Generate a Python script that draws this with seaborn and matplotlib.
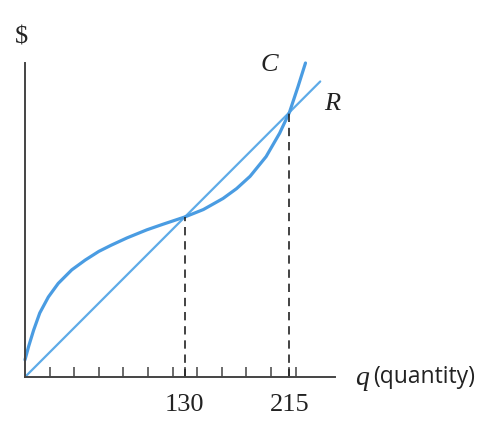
import matplotlib
matplotlib.use('Agg')
import matplotlib.pyplot as plt
import seaborn as sns
import pandas as pd

# cost curve C
q_cost = [0, 3, 7, 12, 19, 27, 38, 49, 60, 70, 83, 99, 112, 130, 145, 161, 172, 183, 196, 207, 215, 222, 228]
cost = [14, 25, 38, 52, 65, 76, 87, 95, 102, 107, 113, 119.5, 124, 130, 136, 145, 153, 163, 179, 198, 215, 236, 255]

# revenue line R
q_rev = [0, 130, 215, 240]
revenue = [0, 130, 215, 240]

# break-even points
cross_q = [130, 215]
cross_val = [130, 215]

tick_pos = [20, 40, 60, 80, 100, 120, 130, 140, 160, 180, 200, 215, 220]
tick_labels = ['' if t not in cross_q else str(t) for t in tick_pos]

sns.set_style('white')
plt.rcParams['font.family'] = ['Liberation Serif', 'DejaVu Serif']

SERIF = 'Liberation Serif'
SANS = 'Open Sans'
AXIS_COL = '#444444'
TEXT_COL = '#222222'

fig = plt.figure(figsize=(4.92, 4.28), dpi=100)
ax = fig.add_axes([25 / 492, 51 / 428, 310 / 492, 314 / 428])

df_cost = pd.DataFrame({'q': q_cost, 'val': cost})
df_rev = pd.DataFrame({'q': q_rev, 'val': revenue})

sns.lineplot(data=df_rev, x='q', y='val', ax=ax, color='#5eabe8', linewidth=1.6,
             sort=False, clip_on=False)
sns.lineplot(data=df_cost, x='q', y='val', ax=ax, color='#4a9ce2', linewidth=2.3,
             sort=False, clip_on=False)

ax.vlines(cross_q, 0, cross_val, colors=TEXT_COL, linestyles=(0, (5, 3.5)), linewidth=1.2)

ax.set_xlim(0, 252)
ax.set_ylim(0, 255)
ax.set_xlabel('')
ax.set_ylabel('')

for side in ['top', 'right']:
    ax.spines[side].set_visible(False)
for side in ['left', 'bottom']:
    ax.spines[side].set_color(AXIS_COL)
    ax.spines[side].set_linewidth(1.4)

ax.set_xticks(tick_pos)
ax.set_xticklabels(tick_labels, fontfamily=SERIF)
ax.set_yticks([])
ax.tick_params(axis='x', bottom=True, direction='in', length=7, width=1.1, color=AXIS_COL,
               pad=12, labelsize=19, labelcolor=TEXT_COL)

ax.text(-2.5, 276, '$', fontsize=19, fontfamily=SERIF, ha='center', va='center',
        color=TEXT_COL, clip_on=False)
ax.text(199, 253, 'C', fontsize=19, fontfamily=SERIF, fontstyle='italic',
        ha='center', va='center', color=TEXT_COL, clip_on=False)
ax.text(250, 222, 'R', fontsize=19, fontfamily=SERIF, fontstyle='italic',
        ha='center', va='center', color=TEXT_COL, clip_on=False)
ax.text(268, -1, 'q', fontsize=20, fontfamily=SERIF, fontstyle='italic',
        ha='left', va='center', color=TEXT_COL, clip_on=False)
ax.text(283, 0, '(quantity)', fontsize=16.5, fontfamily=SANS,
        ha='left', va='center', color=TEXT_COL, clip_on=False)

fig.savefig('out.png', dpi=100, facecolor='white')
plt.close(fig)
